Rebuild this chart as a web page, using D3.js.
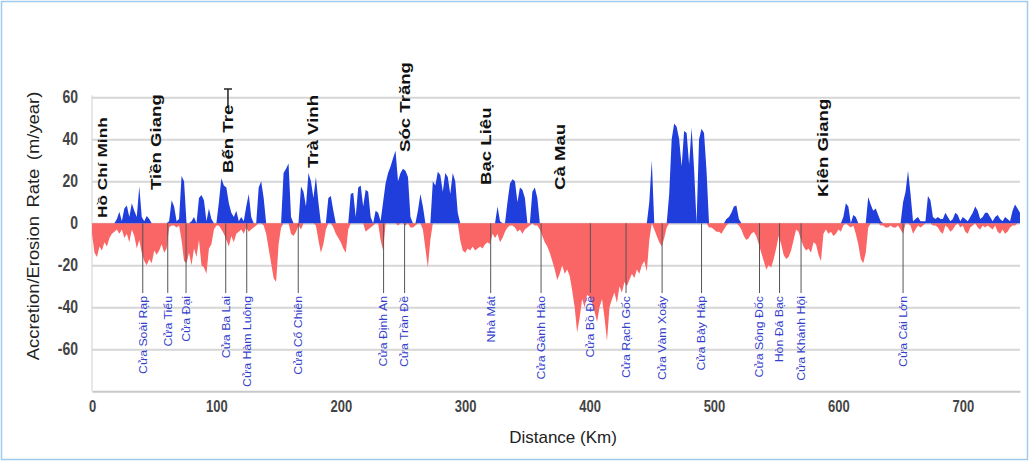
<!DOCTYPE html>
<html><head><meta charset="utf-8">
<script src="https://cdn.jsdelivr.net/npm/d3@7"></script>
<style>body{margin:0;background:#fff}svg{display:block}</style>
</head><body>
<svg id="c" width="1029" height="461"></svg>
<script>
// ---- DATA ----
const stepKm = 2; // sample spacing along the coast (km)
const accretion = [
0,0,0,0,0,0,0,0,0,0,
2,5.5,1,7,8.5,3,9.5,6,3,17.5,
3,1,3.5,2,0,0,0,0,0,0,
0,1,11,8,1,2,22.5,20,0,0,
1,3,0,12,13.5,11,1,7,2,0,
0,10,21.5,18,17,9.5,5,3,6,1,
3,1,8,14,3,0,0,17,20,12,
0,0,0,0,0,0,0,24,26,28.5,
3,0,0,0,17.5,15,8,24,20,12,
22,10,0,0,0,12,13,6,0,0,
0,0,0,0,14,14.5,3,17,18,8,
16,15,3,0,6,5,1,10,19,24,
27,31,34.5,20,24,26,25,22,3,0,
0,6,14,8,0,0,0,20,18,24.5,
23,15,24,22,14,24,20,5,0,0,
0,0,0,0,0,0,0,0,0,0,
0,0,0,8,1,0,0,10,19,21,
20,10,17,16,12,0,0,15,17,12,
0,0,0,0,0,0,0,0,0,0,
0,0,0,0,0,0,0,0,0,0,
0,0,0,0,0,0,0,0,0,0,
0,0,0,0,0,0,0,0,0,0,
0,0,0,0,10,30,0,0,0,0,
0,0,14,40,47.5,46,40,27,44,43,
28,45.5,26,0,40,45,43,25,0,0,
0,0,0,0,0,2,3,5,8,8.5,
2,0,0,0,0,0,0,0,0,0,
0,0,0,0,0,0,0,0,0,0,
0,0,0,0,0,0,0,0,0,0,
0,0,0,0,0,0,0,0,0,0,
0,0,3,9.5,8,0,4,3,0,0,
0,0,12.5,9,6,7,4,1,0,0,
0,0,0,0,0,0,10,15,25,14,
1,2,3,1,1,1,13,11,3,2,
3,2,2,5,3,1,2,5,4,1,
3,2,1,3,5,8,6,2,3,5,
5,3,1,3,4,2,1,3,2,1,
6,9,7,5
];
const erosion = [
-5,-14,-16,-11,-13,-9,-11,-7,-5,-4,
-3,-5,-3,-7,-5,-9,-3,-6,-12,-8,
-14,-18,-20,-17,-19,-13,-15,-13,-10,-14,
-12,-2,-1,-1,-2,-1,-8,-18,-19,-14,
-20,-12,-16,-8,-20,-21,-24,-12,-10,-3,
-1,-1,-3,-5,-8,-11,-6,-9,-5,-4,
-3,-5,-2,-4,-3,-2,-1,0,0,-1,
-5,-12,-19,-26,-28,-10,-2,0,0,0,
-5,-6,-4,-1,-3,0,0,0,0,0,
-1,-8,-14,-10,-3,0,0,-2,-5,-7,
-9,-12,-14,-3,0,0,0,0,0,0,
-4,-3,-2,-1,0,0,-8,-13,0,0,
0,0,0,-1,0,0,-1,0,-2,-2,
-1,0,0,-3,-12,-21,-8,0,0,0,
0,0,0,0,0,0,0,0,-8,-13,
-14,-12,-13,-11,-13,-12,-11,-12,-10,-9,
-10,-5,-7,-5,-9,-7,-4,-2,-1,-1,
-2,-4,-3,-5,-3,-2,-1,0,-1,-1,
-3,-6,-9,-11,-14,-18,-22,-27,-24,-20,
-24,-22,-25,-32,-40,-52,-45,-36,-40,-34,
-35,-38,-42,-47,-40,-36,-45,-56,-40,-36,
-33,-38,-30,-33,-28,-30,-27,-24,-26,-22,
-24,-20,-18,-23,-8,0,-3,-6,-9,-11,
-7,-2,0,0,0,0,0,0,0,0,
0,0,0,0,0,0,0,0,-2,-2,
-3,-4,-4,-5,-3,-1,0,0,0,0,
-1,-3,-6,-8,-7,-5,-4,-6,-10,-14,
-18,-22,-20,-21,-17,-12,-6,-10,-15,-17,
-16,-13,-8,-3,-4,-8,-11,-13,-12,-14,
-9,-10,-15,-18,-5,-3,-5,-4,-6,-5,
-3,-4,-1,0,-1,-2,-1,-5,-10,-17,
-19,-14,-2,0,0,0,0,-1,-1,-2,
-2,-1,-2,-2,-1,-3,-5,0,0,-1,
-5,-3,-1,-2,-1,0,0,0,-1,-1,
-2,-4,-5,-1,-2,-4,-3,-1,0,-2,
-1,-4,-5,-2,-1,0,-2,-3,-1,-2,
-1,-2,-3,-1,-4,-5,-3,-5,-4,-2,
-1,-1,0,0
];
const xTicks = [0,100,200,300,400,500,600,700];
const yTicks = [60,40,20,0,-20,-40,-60];
const provinceNames = ["Hồ Chí Minh","Tiền Giang","Bến Tre","Trà Vinh","Sóc Trăng","Bạc Liêu","Cà Mau","Kiên Giang"];
const provinceKm = [8.4,51.1,109.3,177.7,251.6,316.7,376.2,587.7];
const estuaryNames = ["Cửa Soài Rạp","Cửa Tiểu","Cửa Đại","Cửa Ba Lai","Cửa Hàm Luông","Cửa Cổ Chiên","Cửa Định An","Cửa Trần Đề","Nhà Mát","Cửa Gành Hào","Cửa Bồ Đề","Cửa Rạch Gốc","Cửa Vàm Xoáy","Cửa Bảy Háp","Cửa Sông Đốc","Hòn Đá Bạc","Cửa Khánh Hội","Cửa Cái Lớn"];
const estuaryKm = [40.8,60.9,75.6,107.5,124.4,165.8,234.4,251.3,320.5,361,400.6,429.3,458.3,490,536.6,552.7,570,652];

// ---- LAYOUT ----
const W = 1029, H = 461;
const L = 92, R = 1020, T = 97.3, B = 391.3;
const provinceBase = [218,190,173,168,152,185,190,197]; // px, bottom of rotated label
const provinceSize = [13,14,14,14,14,14,14,14];
const estuaryLineEnd = 293, estuaryLabelTop = 296;
const FONT = "'Liberation Sans',Arial,sans-serif";

const svg = d3.select("#c");
const x = d3.scaleLinear().domain([0,746]).range([L,R]);
const y = d3.scaleLinear().domain([-80,60]).range([B,T]);

svg.append("rect").attr("x",1.5).attr("y",1.5).attr("width",W-3).attr("height",H-3)
  .attr("fill","none").attr("stroke","#9fcbee").attr("stroke-width",1.5);

// gridlines
const grid = svg.append("g").attr("transform",`translate(${L},0)`)
  .call(d3.axisLeft(y).tickValues(yTicks).tickSize(-(R-L)).tickFormat(""));
grid.select(".domain").remove();
grid.selectAll("line").attr("stroke","#d6d6d6").attr("stroke-width",2);

// left axis line
svg.append("line").attr("x1",L).attr("x2",L).attr("y1",T-2).attr("y2",B)
  .attr("stroke","#d0d0d0").attr("stroke-width",1);

// areas
const area = d3.area().x((d,i)=>x(i*stepKm)).y0(y(0)).y1(d=>y(d));
svg.append("path").datum(erosion).attr("d",area).attr("fill","#fa6565");
svg.append("path").datum(accretion).attr("d",area).attr("fill","#1f3edc");

// estuary lines and labels
const est = svg.append("g");
estuaryNames.forEach((n,i)=>{
  const px = x(estuaryKm[i]);
  est.append("line").attr("x1",px).attr("x2",px).attr("y1",y(0)).attr("y2",estuaryLineEnd)
    .attr("stroke","#555").attr("stroke-width",1);
  est.append("text").attr("transform",`translate(${px},${estuaryLabelTop}) rotate(-90) scale(1.12,1)`)
    .attr("text-anchor","end").attr("dy","0.35em")
    .attr("font-family",FONT).attr("font-size",11)
    .attr("fill","#3340cc").text(n);
});

// province labels
provinceNames.forEach((n,i)=>{
  svg.append("text").attr("transform",`translate(${x(provinceKm[i])},${provinceBase[i]}) rotate(-90) scale(1.33,1)`)
    .attr("text-anchor","start").attr("dy","0.36em")
    .attr("font-family",FONT).attr("font-weight","bold")
    .attr("font-size",provinceSize[i]).attr("fill","#111").text(n);
});
// small marker after "Bến Tre"
{
  const bx = x(provinceKm[2]);
  svg.append("line").attr("x1",bx).attr("x2",bx).attr("y1",107).attr("y2",89).attr("stroke","#222").attr("stroke-width",1.5);
  svg.append("line").attr("x1",bx-4).attr("x2",bx+4).attr("y1",89).attr("y2",89).attr("stroke","#222").attr("stroke-width",1.5);
}

// y axis labels
const ya = svg.append("g").attr("transform",`translate(${L},0)`)
  .call(d3.axisLeft(y).tickValues(yTicks).tickSize(0).tickPadding(14).tickFormat(d=>String(d)));
ya.select(".domain").remove();
ya.selectAll("text").attr("font-family",FONT).attr("font-size",14)
  .attr("font-weight","bold").attr("fill","#444").attr("transform","scale(1,1.25)")
  .attr("dy","0.28em");

// x axis
const xa = svg.append("g").attr("transform",`translate(0,${B})`)
  .call(d3.axisBottom(x).tickValues(xTicks).tickSize(0).tickPadding(8).tickFormat(d=>String(d)));
xa.select(".domain").attr("stroke","#c8c8c8").attr("stroke-width",2);
xa.selectAll("text").attr("font-family",FONT).attr("font-size",13)
  .attr("font-weight","bold").attr("fill","#444").attr("transform","scale(1,1.2)");

// titles
svg.append("text").attr("transform",`translate(33,226) rotate(-90) scale(1.15,1)`)
  .attr("text-anchor","middle").attr("font-family",FONT)
  .attr("font-size",16).attr("fill","#222").attr("dy","0.35em").attr("word-spacing",3)
  .text("Accretion/Erosion Rate (m/year)");
svg.append("text").attr("x",563).attr("y",443).attr("text-anchor","middle")
  .attr("font-family",FONT).attr("font-size",17)
  .attr("fill","#222").text("Distance (Km)");
</script>
</body></html>
